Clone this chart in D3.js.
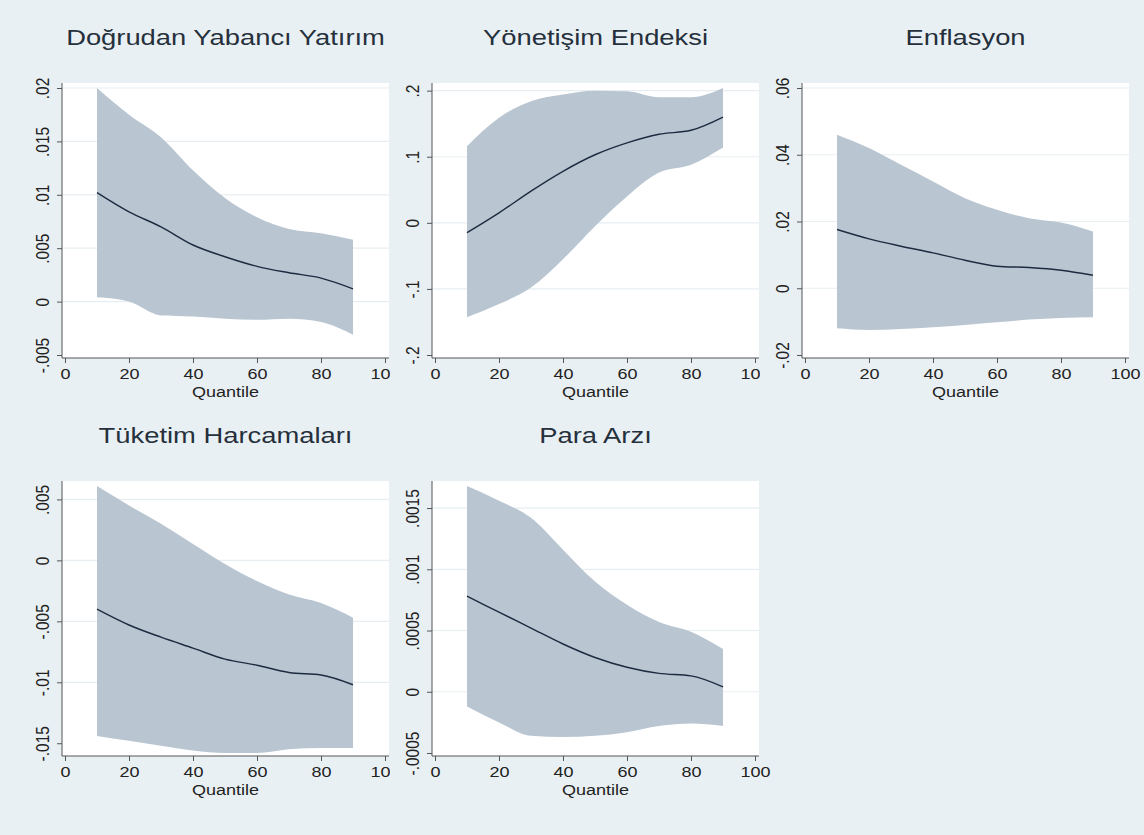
<!DOCTYPE html>
<html>
<head>
<meta charset="utf-8">
<script src="https://cdn.jsdelivr.net/npm/d3@7"></script>
<style>
body { margin: 0; background: #e9f0f3; }
svg { display: block; font-family: "Liberation Sans", Arial, sans-serif; }
</style>
</head>
<body>
<svg width="1144" height="835"></svg>
<script>
var quantiles = [10, 20, 30, 40, 50, 60, 70, 80, 90];
var xTicks = [0, 20, 40, 60, 80, 100];

// Doğrudan Yabancı Yatırım
var fdiEst  = [0.0102, 0.0084, 0.0070, 0.0053, 0.0042, 0.0033, 0.0027, 0.0022, 0.0012];
var fdiLow  = [0.0004, 0.0000, -0.0013, -0.0014, -0.0016, -0.0017, -0.0016, -0.0019, -0.0031];
var fdiHigh = [0.0200, 0.0175, 0.0154, 0.0123, 0.0097, 0.0079, 0.0068, 0.0064, 0.0058];
var fdiTicks = [-0.005, 0, 0.005, 0.01, 0.015, 0.02];
var fdiLabels = ["-.005", "0", ".005", ".01", ".015", ".02"];

// Yönetişim Endeksi
var govEst  = [-0.015, 0.015, 0.048, 0.078, 0.103, 0.121, 0.134, 0.140, 0.160];
var govLow  = [-0.143, -0.123, -0.098, -0.055, -0.005, 0.040, 0.076, 0.088, 0.114];
var govHigh = [0.116, 0.159, 0.184, 0.194, 0.200, 0.199, 0.190, 0.190, 0.204];
var govTicks = [-0.2, -0.1, 0, 0.1, 0.2];
var govLabels = ["-.2", "-.1", "0", ".1", ".2"];

// Enflasyon
var infEst  = [0.0176, 0.0148, 0.0126, 0.0106, 0.0084, 0.0066, 0.0062, 0.0054, 0.0039];
var infLow  = [-0.0120, -0.0125, -0.0122, -0.0117, -0.0110, -0.0102, -0.0094, -0.0089, -0.0087];
var infHigh = [0.0460, 0.0420, 0.0370, 0.0320, 0.0270, 0.0235, 0.0210, 0.0197, 0.0170];
var infTicks = [-0.02, 0, 0.02, 0.04, 0.06];
var infLabels = ["-.02", "0", ".02", ".04", ".06"];

// Tüketim Harcamaları
var conEst  = [-0.0040, -0.0053, -0.0063, -0.0072, -0.0081, -0.0086, -0.0092, -0.0094, -0.0102];
var conLow  = [-0.0144, -0.0148, -0.0152, -0.0156, -0.0158, -0.0158, -0.0155, -0.0154, -0.0154];
var conHigh = [0.0061, 0.0045, 0.0030, 0.00135, -0.0003, -0.0017, -0.0028, -0.0035, -0.0047];
var conTicks = [-0.015, -0.01, -0.005, 0, 0.005];
var conLabels = ["-.015", "-.01", "-.005", "0", ".005"];

// Para Arzı
var monEst  = [0.00078, 0.00065, 0.00052, 0.00039, 0.00028, 0.00020, 0.00015, 0.00013, 0.00004];
var monLow  = [-0.00012, -0.00025, -0.00036, -0.00037, -0.00036, -0.00033, -0.00028, -0.00026, -0.00028];
var monHigh = [0.00168, 0.00156, 0.00142, 0.00116, 0.00090, 0.00071, 0.00057, 0.00049, 0.00035];
var monTicks = [-0.0005, 0, 0.0005, 0.001, 0.0015];
var monLabels = ["-.0005", "0", ".0005", ".001", ".0015"];

var panels = [
    {title: "Doğrudan Yabancı Yatırım", est: fdiEst, low: fdiLow, high: fdiHigh, ticks: fdiTicks, labels: fdiLabels},
    {title: "Yönetişim Endeksi", est: govEst, low: govLow, high: govHigh, ticks: govTicks, labels: govLabels},
    {title: "Enflasyon", est: infEst, low: infLow, high: infHigh, ticks: infTicks, labels: infLabels},
    {title: "Tüketim Harcamaları", est: conEst, low: conLow, high: conHigh, ticks: conTicks, labels: conLabels},
    {title: "Para Arzı", est: monEst, low: monLow, high: monHigh, ticks: monTicks, labels: monLabels}
];

var svg = d3.select("svg"),
    bg = "#e9f0f3",
    colLeft = [62, 432, 802],
    rowTop = [83, 481],
    regionX = [0, 390, 760, 1144],
    regionY = [0, 400, 835],
    plotW = 327,
    plotH = 275,
    stretch = 1.2;   // the original picture is a bit wider than tall

panels.forEach(function(p, i) {
    var col = i % 3, row = Math.floor(i / 3),
        L = colLeft[col], T = rowTop[row], B = T + plotH;

    var g = svg.append("g");

    // subgraph background, also hides the overflow of the panel to its left
    g.append("rect")
        .attr("x", regionX[col])
        .attr("y", regionY[row])
        .attr("width", regionX[col + 1] - regionX[col])
        .attr("height", regionY[row + 1] - regionY[row])
        .attr("fill", bg);

    var x = d3.scaleLinear().domain([0, 100]).range([L + 3, L + 323]);
    var lo = Math.min(p.ticks[0], d3.min(p.low)),
        hi = Math.max(p.ticks[p.ticks.length - 1], d3.max(p.high));
    var y = d3.scaleLinear().domain([lo, hi]).range([B - 3, T + 5]);

    g.append("rect")
        .attr("x", L)
        .attr("y", T)
        .attr("width", plotW)
        .attr("height", plotH)
        .attr("fill", "#fff");

    g.selectAll(".grid")
        .data(p.ticks.slice(1))
        .enter().append("line")
            .attr("x1", L)
            .attr("x2", L + plotW)
            .attr("y1", function(d) { return y(d); })
            .attr("y2", function(d) { return y(d); })
            .attr("stroke", "#e7eef1")
            .attr("stroke-width", 1.2);

    var rows = quantiles.map(function(q, j) {
        return {q: q, est: p.est[j], low: p.low[j], high: p.high[j]};
    });

    g.append("path")
        .datum(rows)
        .attr("fill", "#b9c6d2")
        .attr("d", d3.area()
            .curve(d3.curveMonotoneX)
            .x(function(d) { return x(d.q); })
            .y0(function(d) { return y(d.low); })
            .y1(function(d) { return y(d.high); }));

    g.append("path")
        .datum(rows)
        .attr("fill", "none")
        .attr("stroke", "#1d2b40")
        .attr("stroke-width", 1.4)
        .attr("d", d3.line()
            .curve(d3.curveMonotoneX)
            .x(function(d) { return x(d.q); })
            .y(function(d) { return y(d.est); }));

    // y axis
    var ya = g.append("g")
        .attr("transform", "translate(" + L + ",0)")
        .call(d3.axisLeft(y)
            .tickValues(p.ticks)
            .tickFormat(function(d, j) { return p.labels[j]; })
            .tickSize(5)
            .tickSizeOuter(0));
    ya.select(".domain").remove();
    ya.selectAll("line").attr("stroke", "#555");
    ya.selectAll("text")
        .attr("x", null)
        .attr("dy", null)
        .attr("fill", "#222")
        .style("font-size", "15.5px")
        .attr("text-anchor", "middle")
        .attr("transform", "translate(-13,0) scale(" + stretch + ",1) rotate(-90)");

    // x axis
    var xa = g.append("g")
        .attr("transform", "translate(0," + B + ")")
        .call(d3.axisBottom(x)
            .tickValues(xTicks)
            .tickSize(5)
            .tickSizeOuter(0));
    xa.select(".domain").remove();
    xa.selectAll("line").attr("stroke", "#555");
    xa.selectAll("text")
        .attr("y", null)
        .attr("dy", null)
        .attr("fill", "#222")
        .style("font-size", "15px")
        .attr("transform", "translate(0,21) scale(" + stretch + ",1)");

    g.append("line")
        .attr("x1", L).attr("x2", L)
        .attr("y1", T).attr("y2", B)
        .attr("stroke", "#555");
    g.append("line")
        .attr("x1", L).attr("x2", L + plotW)
        .attr("y1", B).attr("y2", B)
        .attr("stroke", "#555");

    g.append("text")
        .attr("transform", "translate(" + (L + plotW / 2) + "," + (B + 38.5) + ") scale(" + stretch + ",1)")
        .style("text-anchor", "middle")
        .style("font-size", "15px")
        .attr("fill", "#222")
        .text("Quantile");

    g.append("text")
        .attr("transform", "translate(" + (L + plotW / 2) + "," + (T - 38) + ") scale(" + stretch + ",1)")
        .style("text-anchor", "middle")
        .style("font-size", "22.8px")
        .attr("fill", "#25303c")
        .text(p.title);
});
</script>
</body>
</html>
